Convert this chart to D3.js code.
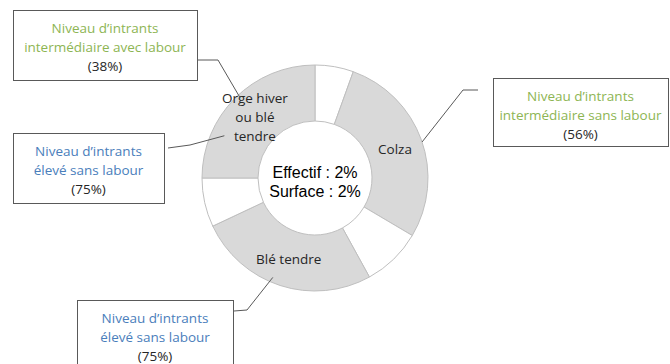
<!DOCTYPE html>
<html>
<head>
<meta charset="utf-8">
<script src="https://cdn.jsdelivr.net/npm/d3@7"></script>
<style>
  body { margin: 0; background: #fff; }
  svg { display: block; }
</style>
</head>
<body>
<svg id="chart"></svg>
<script>
// Chart data
const segmentLabels = ["", "Colza", "", "Blé tendre", "", "Orge hiver|ou blé|tendre"];
const segmentShares = [5.5, 28, 8.5, 26, 7, 25];
const segmentFilled = [false, true, false, true, false, true];
const centerLines = ["Effectif : 2%", "Surface : 2%"];

const calloutTitles = [
  ["Niveau d\u2019intrants", "intermédiaire avec labour"],
  ["Niveau d\u2019intrants", "intermédiaire sans labour"],
  ["Niveau d\u2019intrants", "élevé sans labour"],
  ["Niveau d\u2019intrants", "élevé sans labour"]
];
const calloutValues = ["(38%)", "(56%)", "(75%)", "(75%)"];
const calloutColors = ["#8db553", "#8db553", "#4a7ebb", "#4a7ebb"];

// Layout
const W = 670, H = 364;
const cx = 315, cy = 178;
const outerR = 113, innerR = 57;

// box position/size, elbow point, anchor on the ring (angle in degrees, radius)
const calloutLayout = [
  { x: 13, y: 10, w: 184, h: 70, from: [197, 60], elbow: [218, 60], angle: 317, r: 110 },
  { x: 493, y: 78, w: 175, h: 68, from: [478, 90], elbow: [463, 90], angle: 71.4, r: 113 },
  { x: 13, y: 133, w: 151, h: 70, from: [168, 148], elbow: [190, 145], angle: 295, r: 100 },
  { x: 77, y: 300, w: 156, h: 70, from: [234, 311], elbow: [247, 310], angle: 203, r: 108 }
];

const svg = d3.select("#chart").attr("width", W).attr("height", H);

const g = svg.append("g").attr("transform", `translate(${cx},${cy})`);

const pie = d3.pie().sort(null).value((d) => d);
const arcs = pie(segmentShares);

const arc = d3.arc().innerRadius(innerR).outerRadius(outerR);

g.selectAll("path.seg")
  .data(arcs)
  .join("path")
  .attr("class", "seg")
  .attr("d", arc)
  .attr("fill", (d, i) => (segmentFilled[i] ? "#d9d9d9" : "#ffffff"))
  .attr("stroke", "#bfbfbf")
  .attr("stroke-width", 1);

// Segment labels
const labelFont = "'Open Sans', sans-serif";
const labelSize = "13.5px";
arcs.forEach((d, i) => {
  if (!segmentLabels[i]) return;
  const [lx, ly] = arc.centroid(d);
  const lines = segmentLabels[i].split("|");
  const lh = 19;
  const t = g.append("text")
    .attr("text-anchor", "middle")
    .style("font-family", labelFont)
    .style("font-size", labelSize)
    .attr("fill", "#262626");
  lines.forEach((ln, j) => {
    t.append("tspan")
      .attr("x", lx)
      .attr("y", ly + (j - (lines.length - 1) / 2) * lh + (lines.length > 1 ? 4 : 5))
      .text(ln);
  });
});

// Center text
centerLines.forEach((ln, j) => {
  g.append("text")
    .attr("text-anchor", "middle")
    .attr("x", 0)
    .attr("y", 0 + j * 19)
    .style("font-family", "'Liberation Sans', Arial, sans-serif")
    .style("font-size", "16px")
    .attr("fill", "#000")
    .text(ln);
});

// Callouts
const toXY = (deg, r) => {
  const a = (deg * Math.PI) / 180;
  return [cx + r * Math.sin(a), cy - r * Math.cos(a)];
};

calloutLayout.forEach((c, i) => {
  const end = toXY(c.angle, c.r);
  svg.append("path")
    .attr("d", d3.line()([c.from, c.elbow, end]))
    .attr("fill", "none")
    .attr("stroke", "#595959")
    .attr("stroke-width", 1);

  svg.append("rect")
    .attr("x", c.x + 0.5)
    .attr("y", c.y + 0.5)
    .attr("width", c.w)
    .attr("height", c.h)
    .attr("fill", "#fff")
    .attr("stroke", "#595959")
    .attr("stroke-width", 1);

  const mx = c.x + c.w / 2;
  calloutTitles[i].forEach((ln, j) => {
    svg.append("text")
      .attr("text-anchor", "middle")
      .attr("x", mx)
      .attr("y", c.y + 23 + j * 19)
      .style("font-family", labelFont)
      .style("font-size", labelSize)
      .attr("fill", calloutColors[i])
      .text(ln);
  });
  svg.append("text")
    .attr("text-anchor", "middle")
    .attr("x", mx)
    .attr("y", c.y + 23 + 2 * 19)
    .style("font-family", labelFont)
    .style("font-size", labelSize)
    .attr("fill", "#262626")
    .text(calloutValues[i]);
});
</script>
</body>
</html>
